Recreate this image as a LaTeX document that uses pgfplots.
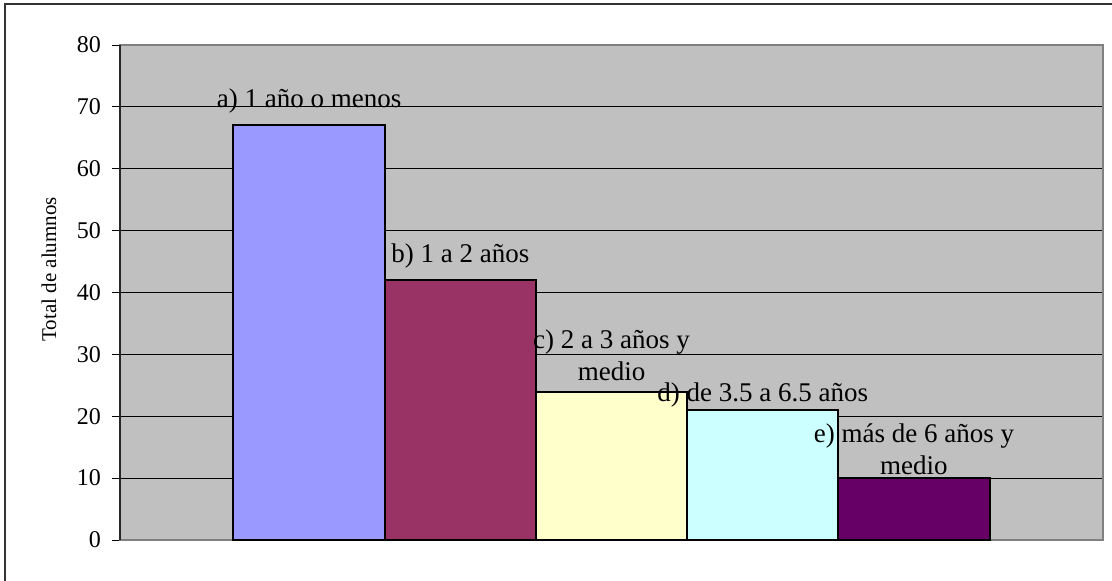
\documentclass[border=0pt]{standalone}
\usepackage{pgfplots}
\pgfplotsset{compat=1.18}
\usepackage{fontspec}
\setmainfont{Liberation Serif}

\definecolor{plotbg}{HTML}{C0C0C0}
\definecolor{edgegray}{HTML}{808080}
\definecolor{barA}{HTML}{9999FF}
\definecolor{barB}{HTML}{993366}
\definecolor{barC}{HTML}{FFFFCC}
\definecolor{barD}{HTML}{CCFFFF}
\definecolor{barE}{HTML}{660066}

\begin{document}
\begin{tikzpicture}
\useasboundingbox (-60pt,-20pt) rectangle (496pt,270pt);
% outer chart frame: only left and top edges fall inside the page
\draw[line width=0.8pt, black!80] (-57.5pt,-24pt) rectangle (502pt,268pt);
\begin{axis}[
    at={(0,0)}, anchor=south west,
    width=491.5pt, height=247.5pt, scale only axis,
    ybar, bar width=1, bar shift=0pt,
    xmin=-0.25, xmax=6.25,
    ymin=0, ymax=80, ytick distance=10,
    xtick=\empty,
    /pgf/number format/assume math mode=true,
    axis background/.style={fill=plotbg},
    axis line style={draw=edgegray, line width=0.8pt},
    ymajorgrids,
    grid style={black, line width=0.5pt},
    tick align=outside, ytick pos=left,
    major tick length=4pt,
    tick style={black, line width=0.5pt},
    yticklabel style={font=\fontsize{12}{14}\selectfont, xshift=-2pt},
    ylabel={Total de alumnos},
    ylabel style={at={(axis description cs:-0.0722,0.547)}, anchor=center,
                  font=\fontsize{10.5}{12}\selectfont},
    every node near coord/.append style={font=\fontsize{13.5}{16}\selectfont,
                  align=center, black},
    after end axis/.code={\draw[black!85, line width=0.8pt] (rel axis cs:0,0) -- (rel axis cs:0,1);},
]
\addplot[draw=black, line width=1pt, fill=barA,
    nodes near coords={a) 1 año o menos},
    every node near coord/.append style={anchor=base, yshift=9pt}]
    coordinates {(1,67)};
\addplot[draw=black, line width=1pt, fill=barB,
    nodes near coords={b) 1 a 2 años},
    every node near coord/.append style={anchor=base, yshift=9pt}]
    coordinates {(2,42)};
\addplot[draw=black, line width=1pt, fill=barC,
    nodes near coords={c) 2 a 3 años y\\medio},
    every node near coord/.append style={anchor=base, yshift=5.5pt}]
    coordinates {(3,24)};
\addplot[draw=black, line width=1pt, fill=barD,
    nodes near coords={d) de 3.5 a 6.5 años},
    every node near coord/.append style={anchor=base, yshift=4.5pt}]
    coordinates {(4,21)};
\addplot[draw=black, line width=1pt, fill=barE,
    nodes near coords={e) más de 6 años y\\medio},
    every node near coord/.append style={anchor=base, yshift=2pt}]
    coordinates {(5,10)};
\end{axis}
\end{tikzpicture}
\end{document}
